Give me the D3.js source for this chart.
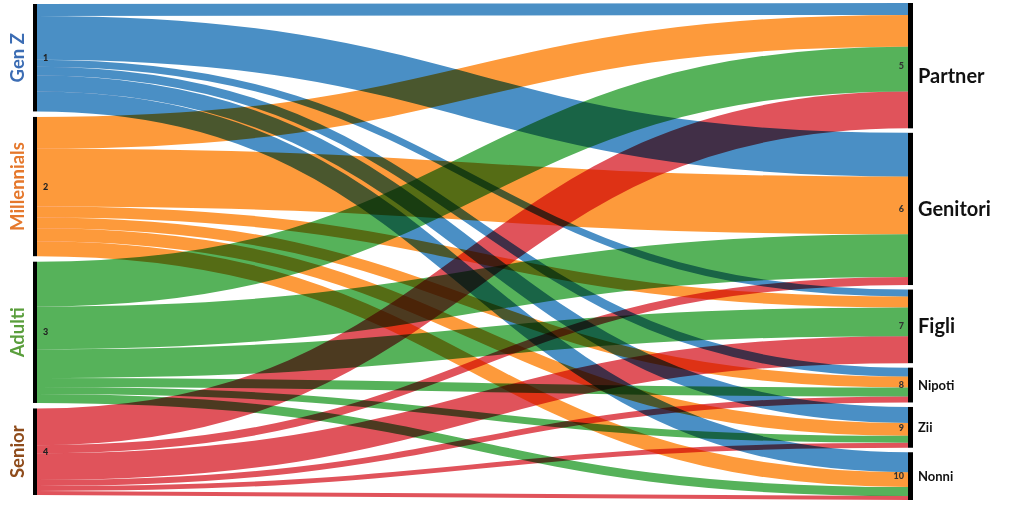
<!DOCTYPE html>
<html>
<head>
<meta charset="utf-8">
<script src="https://cdn.jsdelivr.net/npm/d3@7"></script>
<style>
html,body{margin:0;padding:0;background:#fff;}
svg{display:block;}
.link{mix-blend-mode:multiply;fill:none;}
</style>
</head>
<body>
<svg id="chart" width="1024" height="509"></svg>
<script>
// ---- data ----
const sources = ["Gen Z", "Millennials", "Adulti", "Senior"];
const sourceIds = ["1", "2", "3", "4"];
const targets = ["Partner", "Genitori", "Figli", "Nipoti", "Zii", "Nonni"];
const targetIds = ["5", "6", "7", "8", "9", "10"];
const genZ        = [12, 44, 7, 9, 16, 20];
const millennials = [32, 58, 11, 11, 13, 15];
const adulti      = [45, 43, 29, 9, 7, 9];
const senior      = [37, 8, 27, 6, 5, 4];
const seriesValues = [genZ, millennials, adulti, senior];

// ---- styles ----
const linkColors = ["#4a8fc5", "#fd9a3b", "#56b25a", "#e0535b"];
const sourceLabelColors = ["#3c6db4", "#e5782c", "#5a9e3c", "#8f4c1c"];
const targetBig = [true, true, true, false, false, false];

const W = 1024, H = 509;
const leftX0 = 33, leftX1 = 37, rightX0 = 908, rightX1 = 913;
const leftTop = 4, rightTop = 3;
const leftGap = 5.5, rightGap = 4.5;

const svg = d3.select("#chart");

const total = d3.sum(seriesValues.flat());
const ky = d3.scaleLinear().domain([0, total]).range([0, 474.5]);

// build nodes
const srcNodes = sources.map((name, i) => ({name, id: sourceIds[i], value: d3.sum(seriesValues[i]), i}));
const tgtNodes = targets.map((name, j) => ({name, id: targetIds[j], value: d3.sum(seriesValues, s => s[j]), j}));

let y = leftTop;
srcNodes.forEach(n => { n.y0 = y; n.y1 = y + ky(n.value); y = n.y1 + leftGap; });
y = rightTop;
tgtNodes.forEach(n => { n.y0 = y; n.y1 = y + ky(n.value); y = n.y1 + rightGap; });

// links
const links = [];
srcNodes.forEach((s, i) => {
  let sy = s.y0;
  targets.forEach((t, j) => {
    const w = ky(seriesValues[i][j]);
    links.push({i, j, width: w, sy: sy + w / 2});
    sy += w;
  });
});
tgtNodes.forEach((t, j) => {
  let ty = t.y0;
  sources.forEach((s, i) => {
    const l = links.find(d => d.i === i && d.j === j);
    l.ty = ty + l.width / 2;
    ty += l.width;
  });
});

const linkGen = d3.linkHorizontal();
svg.append("g").style("isolation", "isolate")
  .selectAll("path").data(links).join("path")
  .attr("class", "link")
  .attr("d", d => linkGen({source: [leftX1, d.sy], target: [rightX0, d.ty]}))
  .attr("stroke", d => linkColors[d.i])
  .attr("stroke-width", d => Math.max(0.5, d.width));

// node bars
svg.append("g").selectAll("rect").data(srcNodes).join("rect")
  .attr("x", leftX0).attr("width", leftX1 - leftX0)
  .attr("y", d => d.y0).attr("height", d => d.y1 - d.y0)
  .attr("fill", "#000");
svg.append("g").selectAll("rect").data(tgtNodes).join("rect")
  .attr("x", rightX0).attr("width", rightX1 - rightX0)
  .attr("y", d => d.y0).attr("height", d => d.y1 - d.y0)
  .attr("fill", "#000");

// node ids
svg.append("g").selectAll("text").data(srcNodes).join("text")
  .attr("x", leftX1 + 6).attr("y", d => (d.y0 + d.y1) / 2)
  .attr("dy", "0.35em")
  .attr("font-family", "Lato, 'Open Sans', sans-serif").attr("font-weight", "900")
  .attr("font-size", 9).attr("fill", "#222")
  .text(d => d.id);
svg.append("g").selectAll("text").data(tgtNodes).join("text")
  .attr("x", rightX0 - 4).attr("y", d => (d.y0 + d.y1) / 2)
  .attr("dy", "0.35em").attr("text-anchor", "end")
  .attr("font-family", "Lato, 'Open Sans', sans-serif").attr("font-weight", "900")
  .attr("font-size", 9).attr("fill", "#333")
  .text(d => d.id);

// source labels (rotated)
svg.append("g").selectAll("text").data(srcNodes).join("text")
  .attr("transform", d => `translate(18,${(d.y0 + d.y1) / 2}) rotate(-90)`)
  .attr("text-anchor", "middle").attr("dy", "0.35em")
  .attr("font-family", "Lato, 'Open Sans', sans-serif").attr("font-weight", "bold")
  .attr("font-size", 18.5)
  .attr("fill", d => sourceLabelColors[d.i])
  .text(d => d.name);

// target labels
svg.append("g").selectAll("text").data(tgtNodes).join("text")
  .attr("x", rightX1 + 5)
  .attr("y", d => (d.y0 + d.y1) / 2 + (d.j === 0 ? 10 : 0))
  .attr("dy", "0.35em")
  .attr("font-family", "Lato, 'Open Sans', sans-serif").attr("font-weight", "bold")
  .attr("font-size", d => targetBig[d.j] ? 20 : 13)
  .attr("fill", "#111")
  .text(d => d.name);
</script>
</body>
</html>
